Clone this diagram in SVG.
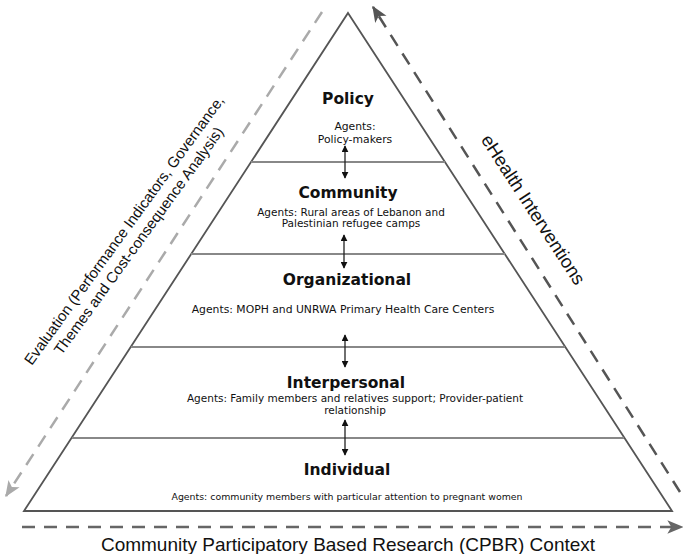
<svg xmlns="http://www.w3.org/2000/svg" width="685" height="554" viewBox="0 0 685 554">
<defs>
<style>
.title{font-family:"DejaVu Sans",Verdana,sans-serif;font-weight:bold;font-size:15.5px;fill:#111;text-anchor:middle}
.agent{font-family:"DejaVu Sans",Verdana,sans-serif;font-size:10.5px;fill:#111;text-anchor:middle}
.side{font-family:"Liberation Sans",Arial,sans-serif;fill:#111;text-anchor:middle}
.layer{stroke:#888;stroke-width:2;fill:none}
.dbl{stroke:#222;stroke-width:1.3;fill:none;marker-start:url(#ah);marker-end:url(#ah)}
</style>
<marker id="ah" viewBox="0 0 10 10" refX="9" refY="5" markerWidth="7" markerHeight="7" markerUnits="userSpaceOnUse" orient="auto-start-reverse">
<path d="M0,0 L10,5 L0,10 z" fill="#111"/>
</marker>
<marker id="gl" viewBox="0 0 12 10" refX="11" refY="5" markerWidth="16" markerHeight="14" markerUnits="userSpaceOnUse" orient="auto">
<path d="M0,0 L12,5 L0,10 L3,5 z" fill="#aaa"/>
</marker>
<marker id="gd" viewBox="0 0 12 10" refX="11" refY="5" markerWidth="16" markerHeight="14" markerUnits="userSpaceOnUse" orient="auto">
<path d="M0,0 L12,5 L0,10 L3,5 z" fill="#555"/>
</marker>
<marker id="gm" viewBox="0 0 12 10" refX="11" refY="5" markerWidth="16" markerHeight="14" markerUnits="userSpaceOnUse" orient="auto">
<path d="M0,0 L12,5 L0,10 L3,5 z" fill="#666"/>
</marker>
</defs>
<rect width="685" height="554" fill="#fff"/>

<g id="pyramid">
<polygon points="348,13 672,511 24,511" fill="none" stroke="#555" stroke-width="1.8" stroke-linejoin="miter"/>
<line class="layer" x1="251" y1="162" x2="445" y2="162"/>
<line class="layer" x1="191" y1="254" x2="505" y2="254"/>
<line class="layer" x1="131" y1="347" x2="565" y2="347"/>
<line class="layer" x1="72" y1="438" x2="624" y2="438"/>
</g>

<g id="policy">
<text class="title" x="348" y="104">Policy</text>
<text class="agent" x="355" y="130" style="font-size:10.8px">Agents:</text>
<text class="agent" x="355" y="142.5" style="font-size:10.8px">Policy-makers</text>
</g>
<g id="community">
<text class="title" x="348" y="198">Community</text>
<text class="agent" x="351" y="215.5">Agents: Rural areas of Lebanon and</text>
<text class="agent" x="351" y="227">Palestinian refugee camps</text>
</g>
<g id="organizational">
<text class="title" x="347" y="285">Organizational</text>
<text class="agent" x="343" y="312.5" style="font-size:10.8px">Agents: MOPH and UNRWA Primary Health Care Centers</text>
</g>
<g id="interpersonal">
<text class="title" x="346" y="387.5">Interpersonal</text>
<text class="agent" x="355" y="401.5">Agents: Family members and relatives support; Provider-patient</text>
<text class="agent" x="355" y="413.5">relationship</text>
</g>
<g id="individual">
<text class="title" x="347" y="475">Individual</text>
<text class="agent" x="347" y="499.5" style="font-size:9.4px">Agents: community members with particular attention to pregnant women</text>
</g>

<g id="connectors">
<line class="dbl" x1="345" y1="146" x2="345" y2="178"/>
<line class="dbl" x1="344" y1="235" x2="344" y2="268"/>
<line class="dbl" x1="345" y1="335" x2="345" y2="367"/>
<line class="dbl" x1="345" y1="420" x2="345" y2="455"/>
<line x1="322" y1="12" x2="6" y2="496" stroke="#aaa" stroke-width="2.5" stroke-dasharray="13,9" marker-end="url(#gl)"/>
<line x1="680" y1="492" x2="373" y2="7" stroke="#555" stroke-width="2.5" stroke-dasharray="13,9" marker-end="url(#gd)"/>
<line x1="22" y1="527" x2="682" y2="527" stroke="#666" stroke-width="2.5" stroke-dasharray="13,9" marker-end="url(#gm)"/>
</g>

<g id="labels">
<g transform="translate(131.5,235.5) rotate(-54)">
<text class="side" font-size="15" x="0" y="-4">Evaluation (Performance Indicators, Governance,</text>
<text class="side" font-size="15" x="0" y="14">Themes and Cost-consequence Analysis)</text>
</g>
<text class="side" font-size="18.5" transform="translate(528,213) rotate(57)" x="0" y="0">eHealth Interventions</text>
<text class="side" font-size="19" x="348" y="551">Community Participatory Based Research (CPBR) Context</text>
</g>
</svg>
